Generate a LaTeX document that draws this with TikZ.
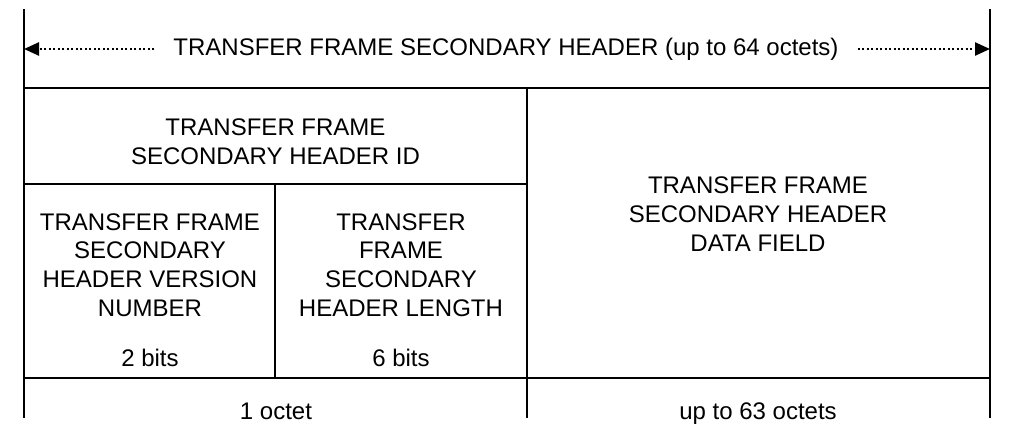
\documentclass[tikz,border=0pt]{standalone}
\usepackage{fontspec}
\setmainfont{Liberation Sans}
\usetikzlibrary{arrows.meta}
\begin{document}
\begin{tikzpicture}[x=1pt,y=-1pt,
  frame/.style={line width=2.2pt, line cap=rect},
  lbl/.style={font=\fontsize{24}{28.7}\selectfont, align=center, inner sep=0pt},
  dimarrow/.style={line width=2.4pt, dash pattern=on 2.2pt off 2.3pt, -{Triangle[length=15pt,width=13pt]}}]
\useasboundingbox (0,0) rectangle (1026,436);
% frame coordinates
\coordinate (tl) at (24,10);
\coordinate (bl) at (24,417);
\coordinate (tr) at (990,10);
\coordinate (br) at (990,417);
\coordinate (mt) at (527,88);
\coordinate (mb) at (527,417);
\coordinate (la) at (24,49);
\coordinate (ra) at (990,49);
% lines
\draw[frame] (tl) -- (bl);
\draw[frame] (tr) -- (br);
\draw[frame] (mt) -- (mb);
\draw[frame] (24,88) -- (990,88);
\draw[frame] (24,184) -- (527,184);
\draw[frame] (24,378) -- (990,378);
\draw[frame] (275,184) -- (275,378);
% title with arrows
\node[lbl, inner xsep=19pt] (title) at (506,49) {TRANSFER FRAME SECONDARY HEADER (up to 64 octets)};
\draw[dimarrow] (title.west) -- (la);
\draw[dimarrow] (title.east) -- (ra);
% fields
\node[lbl] (id) at (275.5,142) {TRANSFER FRAME\\SECONDARY HEADER ID};
\node[lbl] (ver) at (150,265) {TRANSFER FRAME\\SECONDARY\\HEADER VERSION\\NUMBER};
\node[lbl] (len) at (401,265) {TRANSFER\\FRAME\\SECONDARY\\HEADER LENGTH};
\node[lbl, anchor=base] (b2) at (150,366) {2 bits};
\node[lbl, anchor=base] (b6) at (401,366) {6 bits};
\node[lbl] (data) at (758,214) {TRANSFER FRAME\\SECONDARY HEADER\\DATA FIELD};
\node[lbl, anchor=base] (o1) at (276,419) {1 octet};
\node[lbl, anchor=base] (o63) at (758,419) {up to 63 octets};
\end{tikzpicture}
\end{document}
